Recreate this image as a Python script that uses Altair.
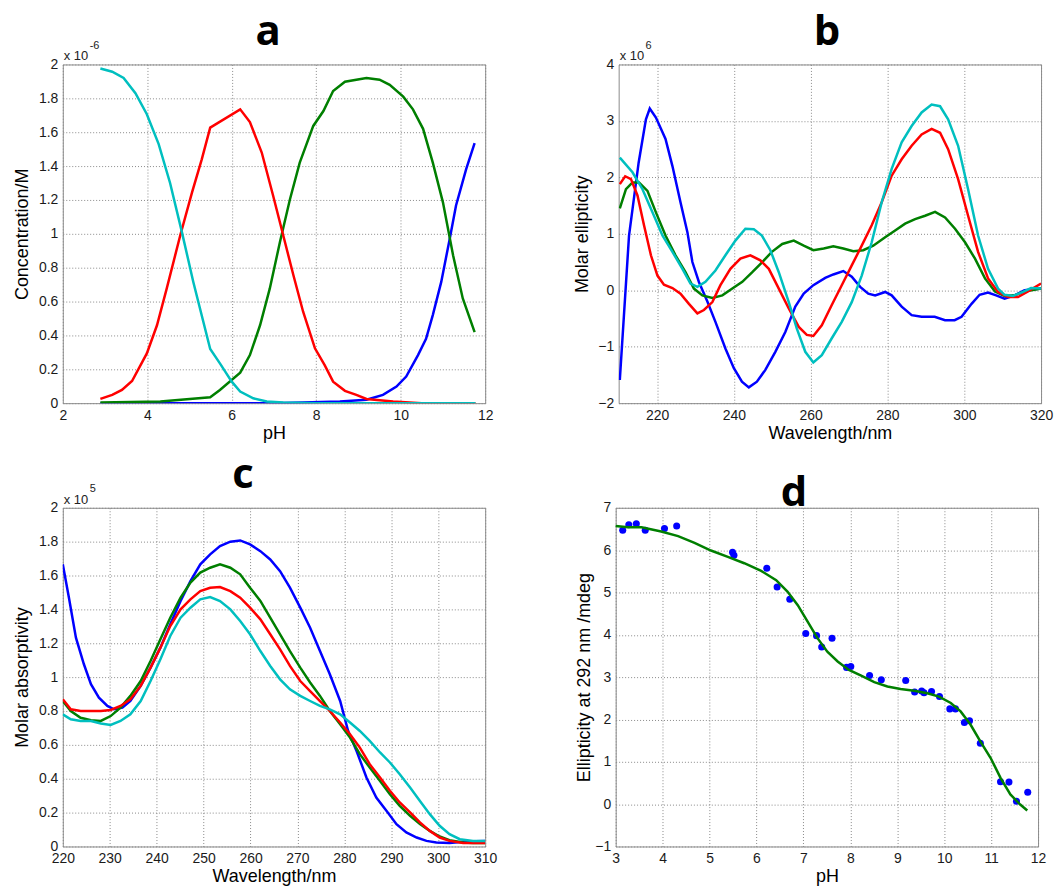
import altair as alt
import pandas as pd

# ---------------- Panel a: concentration vs pH (units of 1e-6 M) -------------
a_cyan_x = [2.89, 3.17, 3.44, 3.72, 3.99, 4.27, 4.54, 4.82, 5.09, 5.49, 5.72, 6.0, 6.2, 6.51, 6.83, 7.22, 8.0, 9.0, 10.0, 11.0, 11.77]
a_cyan_y = [1.976, 1.957, 1.92, 1.83, 1.706, 1.53, 1.30, 1.01, 0.716, 0.32, 0.235, 0.127, 0.069, 0.029, 0.01, 0.004, 0.0, 0.0, 0.0, 0.0, 0.0]
a_red_x = [2.89, 3.17, 3.4, 3.64, 3.99, 4.23, 4.46, 4.78, 5.06, 5.29, 5.49, 6.2, 6.43, 6.71, 6.98, 7.22, 7.46, 7.69, 7.97, 8.2, 8.4, 8.68, 8.95, 9.19, 9.82, 10.5, 11.77]
a_red_y = [0.025, 0.049, 0.078, 0.131, 0.294, 0.46, 0.676, 0.99, 1.245, 1.44, 1.627, 1.735, 1.66, 1.48, 1.225, 0.99, 0.755, 0.54, 0.324, 0.225, 0.127, 0.073, 0.049, 0.025, 0.01, 0.0, 0.0]
a_green_x = [2.89, 4.31, 5.49, 5.72, 6.2, 6.43, 6.67, 6.9, 7.14, 7.38, 7.61, 7.93, 8.17, 8.4, 8.68, 8.95, 9.19, 9.5, 9.74, 10.06, 10.29, 10.53, 10.76, 11.0, 11.24, 11.47, 11.75]
a_green_y = [0.004, 0.01, 0.035, 0.078, 0.18, 0.284, 0.46, 0.676, 0.95, 1.206, 1.42, 1.637, 1.725, 1.843, 1.898, 1.91, 1.92, 1.91, 1.88, 1.81, 1.735, 1.62, 1.42, 1.186, 0.873, 0.618, 0.42]
a_blue_x = [2.89, 5.0, 7.0, 8.56, 9.19, 9.58, 9.9, 10.13, 10.41, 10.6, 10.76, 10.96, 11.16, 11.31, 11.55, 11.75]
a_blue_y = [0.0, 0.0, 0.0, 0.01, 0.02, 0.049, 0.098, 0.157, 0.284, 0.38, 0.52, 0.716, 0.97, 1.167, 1.382, 1.535]

# ---------------- Panel b: molar ellipticity (units of 1e6) ------------------
b_blue_x = [210.3, 212.7, 215.2, 217.1, 218.1, 219.7, 222.2, 224, 226.1, 227.9, 229.2, 230.9, 233.1, 235.2, 237.8, 240, 242.1, 243.9, 246, 248.2, 250.8, 253.4, 256, 258.2, 260.7, 263.8, 265.9, 268.5, 270.7, 272.9, 275, 276.8, 279.4, 281.1, 283.7, 286.3, 288.9, 292.3, 295, 297.5, 299.3, 301.9, 304, 306.2, 308.3, 310.5, 313.1, 315.7, 320]
b_blue_y = [-1.59, 0.97, 2.26, 3.03, 3.22, 3.06, 2.68, 2.2, 1.56, 1.03, 0.5, 0.147, -0.2, -0.56, -1.03, -1.38, -1.62, -1.72, -1.62, -1.41, -1.09, -0.74, -0.29, -0.06, 0.09, 0.22, 0.28, 0.34, 0.24, 0.06, -0.06, -0.09, -0.03, -0.09, -0.29, -0.44, -0.47, -0.47, -0.53, -0.53, -0.47, -0.24, -0.08, -0.04, -0.09, -0.15, -0.09, 0.0, 0.03]
b_cyan_x = [210.3, 213.6, 216.2, 218.8, 221.4, 224, 226.6, 228.7, 230.5, 232.6, 235.2, 237.8, 240.4, 243, 245.2, 247.3, 249.5, 251.7, 254.3, 256.4, 258.6, 260.7, 262.9, 265.5, 268.1, 270.7, 273.3, 275.9, 278.5, 281.1, 283.7, 286.3, 288.9, 291.5, 293.7, 295.8, 298.4, 301, 303.6, 306.2, 308.8, 310.5, 312.7, 315.3, 317.4, 320]
b_cyan_y = [2.35, 2.09, 1.79, 1.38, 0.97, 0.68, 0.38, 0.12, 0.06, 0.15, 0.35, 0.62, 0.88, 1.09, 1.08, 0.97, 0.71, 0.32, -0.21, -0.68, -1.09, -1.28, -1.15, -0.85, -0.56, -0.21, 0.26, 0.85, 1.56, 2.15, 2.62, 2.91, 3.15, 3.29, 3.26, 3.03, 2.56, 1.79, 0.97, 0.38, 0.03, -0.08, -0.1, -0.03, 0.04, 0.03]
b_red_x = [210.3, 211.7, 213.2, 214.9, 216.6, 218.4, 220.1, 221.8, 224, 226.1, 228.3, 230.5, 232.2, 234.4, 236.5, 239.1, 241.7, 244.3, 246.9, 249.1, 251.7, 254.3, 256.9, 259, 260.7, 262.9, 265.5, 268.1, 270.7, 273.3, 275.9, 278.5, 281.1, 283.7, 286.3, 288.9, 291.5, 293.7, 295.8, 298.4, 301, 303.6, 306.2, 308.8, 311.4, 314, 316.6, 320]
b_red_y = [1.88, 2.02, 1.97, 1.68, 1.15, 0.62, 0.26, 0.1, 0.04, -0.06, -0.24, -0.41, -0.35, -0.21, 0.09, 0.38, 0.56, 0.62, 0.53, 0.38, 0.03, -0.32, -0.65, -0.79, -0.81, -0.62, -0.26, 0.09, 0.44, 0.79, 1.15, 1.56, 2.03, 2.32, 2.56, 2.76, 2.86, 2.79, 2.5, 1.97, 1.32, 0.68, 0.21, -0.03, -0.12, -0.12, -0.02, 0.12]
b_green_x = [210.3, 211.9, 213.6, 215.3, 217.5, 219.7, 222.2, 224.8, 227.4, 229.6, 231.8, 234.4, 237, 239.6, 242.2, 244.8, 247.4, 249.9, 252.6, 255.6, 258.2, 260.7, 263.4, 265.9, 268.5, 271.1, 273.7, 276.3, 279.4, 282, 284.6, 287.2, 289.8, 292.4, 295, 297.6, 300.2, 302.8, 305.4, 308, 310.5, 313.1, 315.7, 320]
b_green_y = [1.45, 1.79, 1.91, 1.91, 1.76, 1.38, 0.97, 0.62, 0.32, 0.03, -0.09, -0.135, -0.09, 0.03, 0.15, 0.32, 0.5, 0.68, 0.82, 0.88, 0.79, 0.71, 0.74, 0.78, 0.74, 0.69, 0.71, 0.79, 0.94, 1.06, 1.18, 1.26, 1.32, 1.39, 1.29, 1.09, 0.85, 0.56, 0.21, -0.02, -0.1, -0.09, -0.02, 0.03]

# ---------------- Panel c: molar absorptivity (units of 1e5) -----------------
c_blue_x = [220, 221.3, 222.8, 224.5, 226, 227.7, 229.5, 230.9, 232.7, 234.4, 236.6, 238.7, 240.8, 242.9, 245.1, 247.2, 249.3, 251.4, 253.5, 255.7, 257.8, 259.9, 262.1, 264.2, 266.3, 268.4, 270.6, 272.7, 274.8, 276.9, 279.1, 280.8, 282.6, 284.7, 286.8, 289, 291.1, 293.2, 295.4, 297.5, 299.6, 302.4, 306, 310]
c_blue_y = [1.666, 1.47, 1.233, 1.076, 0.958, 0.879, 0.83, 0.81, 0.82, 0.86, 0.948, 1.056, 1.174, 1.312, 1.45, 1.567, 1.666, 1.725, 1.774, 1.8, 1.807, 1.784, 1.744, 1.695, 1.626, 1.528, 1.41, 1.292, 1.154, 1.017, 0.859, 0.682, 0.564, 0.407, 0.289, 0.21, 0.132, 0.083, 0.053, 0.033, 0.024, 0.02, 0.03, 0.033]
c_green_x = [220, 221.7, 223.8, 226, 228.1, 230.2, 232.3, 234.4, 236.6, 238.7, 240.8, 242.9, 245.1, 247.2, 249.3, 251.4, 253.5, 255.7, 257.8, 259.9, 262.1, 264.2, 266.3, 268.4, 270.6, 272.7, 274.8, 276.9, 279.1, 281.2, 283.3, 285.4, 287.6, 289.7, 291.8, 294, 296.1, 298.2, 300.3, 302.4, 305.3, 307.4, 310]
c_green_y = [0.859, 0.8, 0.76, 0.745, 0.741, 0.77, 0.82, 0.889, 0.977, 1.095, 1.223, 1.351, 1.469, 1.558, 1.617, 1.646, 1.666, 1.646, 1.607, 1.528, 1.45, 1.351, 1.253, 1.154, 1.056, 0.968, 0.889, 0.8, 0.722, 0.643, 0.545, 0.466, 0.387, 0.309, 0.24, 0.181, 0.132, 0.092, 0.059, 0.037, 0.024, 0.02, 0.02]
c_red_x = [220, 221.7, 223.8, 226, 228.1, 230.2, 232.3, 234.4, 236.6, 238.7, 240.8, 242.9, 245.1, 247.2, 249.3, 251.4, 253.5, 255.7, 257.8, 259.9, 262.1, 264.2, 266.3, 268.4, 270.6, 272.7, 274.8, 276.9, 279.1, 281.2, 283.3, 285.4, 287.6, 289.7, 291.8, 294, 296.1, 298.2, 300.3, 302.4, 305.3, 310]
c_red_y = [0.869, 0.81, 0.8, 0.8, 0.8, 0.806, 0.83, 0.869, 0.948, 1.056, 1.174, 1.302, 1.4, 1.459, 1.508, 1.528, 1.532, 1.508, 1.469, 1.41, 1.341, 1.253, 1.164, 1.066, 0.977, 0.918, 0.859, 0.8, 0.732, 0.663, 0.584, 0.486, 0.407, 0.329, 0.26, 0.201, 0.142, 0.092, 0.053, 0.033, 0.02, 0.02]
c_cyan_x = [220, 221.7, 223.8, 226, 228.1, 230.2, 232.3, 234.4, 236.6, 238.7, 240.8, 242.9, 245.1, 247.2, 249.3, 251.4, 253.5, 255.7, 257.8, 259.9, 262.1, 264.2, 266.3, 268.4, 270.6, 272.7, 274.8, 276.9, 279.1, 281.2, 283.3, 285.4, 287.6, 289.7, 291.8, 294, 296.1, 298.2, 300.3, 302.4, 304.6, 307.4, 310]
c_cyan_y = [0.78, 0.751, 0.741, 0.741, 0.726, 0.718, 0.741, 0.78, 0.859, 0.977, 1.105, 1.243, 1.351, 1.41, 1.459, 1.473, 1.449, 1.4, 1.331, 1.253, 1.154, 1.066, 0.987, 0.928, 0.889, 0.859, 0.83, 0.81, 0.78, 0.732, 0.682, 0.623, 0.555, 0.496, 0.427, 0.348, 0.269, 0.191, 0.122, 0.073, 0.043, 0.033, 0.033]

# ---------------- Panel d: ellipticity at 292 nm vs pH ----------------------
d_pts_x = [3.15, 3.28, 3.44, 3.63, 4.04, 4.30, 5.49, 5.52, 6.22, 6.44, 6.71, 7.05, 7.28, 7.39, 7.61, 7.92, 8.01, 8.41, 8.66, 9.18, 9.37, 9.52, 9.57, 9.73, 9.9, 10.12, 10.24, 10.43, 10.54, 10.77, 11.2, 11.38, 11.54, 11.78]
d_pts_y = [6.47, 6.6, 6.62, 6.47, 6.51, 6.57, 5.95, 5.88, 5.57, 5.13, 4.84, 4.03, 3.98, 3.71, 3.92, 3.23, 3.25, 3.04, 2.94, 2.92, 2.65, 2.67, 2.63, 2.66, 2.54, 2.25, 2.25, 1.93, 1.97, 1.44, 0.53, 0.52, 0.07, 0.28]
d_fit_x = [3.0, 3.26, 3.55, 3.97, 4.33, 4.68, 5.03, 5.39, 5.74, 6.1, 6.42, 6.66, 6.88, 7.09, 7.3, 7.51, 7.73, 7.97, 8.22, 8.51, 8.79, 9.07, 9.36, 9.64, 9.89, 10.14, 10.35, 10.56, 10.77, 10.99, 11.2, 11.41, 11.62, 11.77]
d_fit_y = [6.57, 6.54, 6.54, 6.44, 6.33, 6.17, 5.99, 5.84, 5.69, 5.51, 5.29, 5.02, 4.7, 4.31, 3.92, 3.6, 3.37, 3.17, 3.04, 2.88, 2.78, 2.72, 2.68, 2.62, 2.54, 2.39, 2.19, 1.88, 1.48, 1.09, 0.62, 0.23, -0.01, -0.15]

COLORS = {"blue": "#0000FF", "green": "#007F00", "red": "#FF0000", "cyan": "#00BFBF"}
ORDER = ["blue", "green", "red", "cyan"]

W, H = 424, 340
TITLE_FONT = "Open Sans"
AX_FONT = "Liberation Sans"


def frame(series):
    rows = []
    for name, xs, ys in series:
        for i, (x, y) in enumerate(zip(xs, ys)):
            rows.append({"s": name, "x": x, "y": y, "i": i})
    return pd.DataFrame(rows)


def title(letter, dx):
    return alt.TitleParams(letter, font=TITLE_FONT, fontSize=42, fontWeight="bold",
                           anchor="middle", dx=dx, offset=-14, color="#000")


def line_panel(series, xdom, ydom, xticks, yticks, xfmt, yfmt, xtitle, ytitle, letter, dx, exp_text, exp_sup, ytp):
    df = frame(series)
    lines = alt.Chart(df).mark_line(strokeWidth=2.5, clip=True).encode(
        x=alt.X("x:Q", scale=alt.Scale(domain=xdom, nice=False, zero=False),
                axis=alt.Axis(values=xticks, title=xtitle, format=xfmt, titlePadding=2)),
        y=alt.Y("y:Q", scale=alt.Scale(domain=ydom, nice=False, zero=False),
                axis=alt.Axis(values=yticks, title=ytitle, format=yfmt, titlePadding=ytp)),
        color=alt.Color("s:N", scale=alt.Scale(domain=ORDER, range=[COLORS[k] for k in ORDER]), legend=None),
        order="i:Q",
    )
    base = alt.Chart(pd.DataFrame({"t": [exp_text]})).mark_text(
        align="left", baseline="alphabetic", font=AX_FONT, fontSize=13, color="#222"
    ).encode(text="t:N", x=alt.value(1), y=alt.value(-4))
    sup = alt.Chart(pd.DataFrame({"t": [exp_sup]})).mark_text(
        align="left", baseline="alphabetic", font=AX_FONT, fontSize=11, color="#222"
    ).encode(text="t:N", x=alt.value(27), y=alt.value(-16))
    return alt.layer(lines, base, sup).properties(width=W, height=H, title=title(letter, dx))


TICKS_02 = [0, 0.2, 0.4, 0.6, 0.8, 1, 1.2, 1.4, 1.6, 1.8, 2]

pa = line_panel(
    [("blue", a_blue_x, a_blue_y), ("green", a_green_x, a_green_y),
     ("red", a_red_x, a_red_y), ("cyan", a_cyan_x, a_cyan_y)],
    [2, 12], [0, 2], [2, 4, 6, 8, 10, 12], TICKS_02, "d", ".1~f",
    "pH", "Concentration/M", "a", -6, "x 10", "-6", 7)

pb = line_panel(
    [("blue", b_blue_x, b_blue_y), ("green", b_green_x, b_green_y),
     ("red", b_red_x, b_red_y), ("cyan", b_cyan_x, b_cyan_y)],
    [210, 320], [-2, 4], [220, 240, 260, 280, 300, 320], [-2, -1, 0, 1, 2, 3, 4], "d", "d",
    "Wavelength/nm", "Molar ellipticity", "b", -3, "x 10", "6", 6)

pc = line_panel(
    [("blue", c_blue_x, c_blue_y), ("green", c_green_x, c_green_y),
     ("red", c_red_x, c_red_y), ("cyan", c_cyan_x, c_cyan_y)],
    [220, 310], [0, 2], list(range(220, 311, 10)), TICKS_02, "d", ".1~f",
    "Wavelength/nm", "Molar absorptivity", "c", -31, "x 10", "5", 7)

df_pts = pd.DataFrame({"x": d_pts_x, "y": d_pts_y})
df_fit = pd.DataFrame({"x": d_fit_x, "y": d_fit_y})
xd = alt.X("x:Q", scale=alt.Scale(domain=[3, 12], nice=False, zero=False),
           axis=alt.Axis(values=list(range(3, 13)), title="pH", format="d", titlePadding=2))
yd = alt.Y("y:Q", scale=alt.Scale(domain=[-1, 7], nice=False, zero=False),
           axis=alt.Axis(values=list(range(-1, 8)), title="Ellipticity at 292 nm /mdeg", format="d", titlePadding=1))
pts = alt.Chart(df_pts).mark_circle(size=50, opacity=1, color="#0000FF").encode(x=xd, y=yd)
fit = alt.Chart(df_fit).mark_line(strokeWidth=2.5, color="#007F00").encode(x=xd, y=yd)
pd_ = alt.layer(pts, fit).properties(width=W, height=H, title=title("d", -33))

chart = alt.vconcat(
    alt.hconcat(pa, pb, spacing=79),
    alt.hconcat(pc, pd_, spacing=77),
    spacing=10,
).properties(padding={"left": 5, "top": 0, "right": 0, "bottom": 0}, background="white").configure_view(
    stroke="#8c8c8c", strokeWidth=1
).configure_axis(
    grid=True, gridDash=[1, 2], gridColor="#8a8a8a", gridWidth=1, domain=False, ticks=False,
    labelFont=AX_FONT, labelFontSize=14, labelColor="#1a1a1a", labelPadding=5, labelFlush=False,
    titleFont=AX_FONT, titleFontSize=18, titleFontWeight="normal", titleColor="#000",
)

chart.save("out.html", embed_options={"renderer": "svg", "actions": False})
